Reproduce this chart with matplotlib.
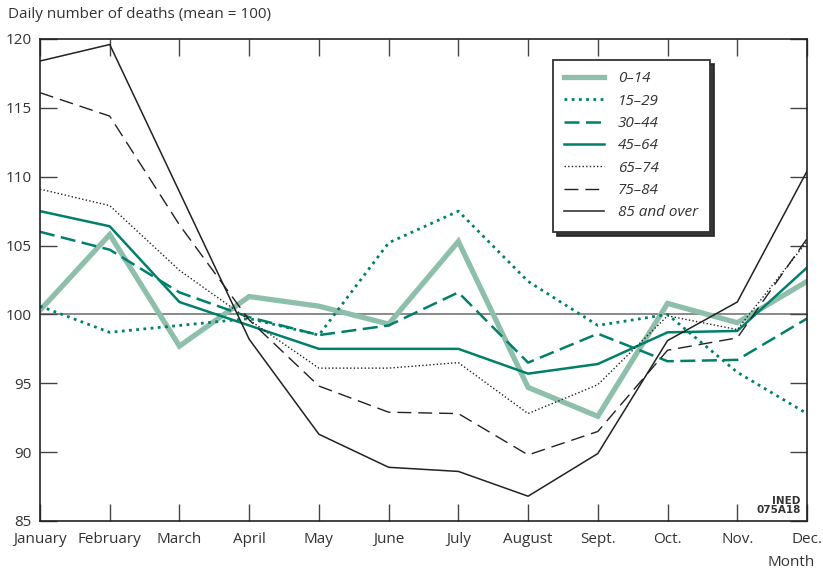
import matplotlib.pyplot as plt

months = ["January", "February", "March", "April", "May", "June", "July",
          "August", "Sept.", "Oct.", "Nov.", "Dec."]

age_0_14 = [100.3, 105.8, 97.7, 101.3, 100.6, 99.3, 105.3, 94.7, 92.6, 100.8, 99.4, 102.4]
age_15_29 = [100.6, 98.7, 99.2, 99.7, 98.5, 105.2, 107.5, 102.4, 99.2, 100.0, 95.8, 92.8]
age_30_44 = [106.0, 104.7, 101.6, 99.8, 98.5, 99.2, 101.6, 96.5, 98.6, 96.6, 96.7, 99.7]
age_45_64 = [107.5, 106.4, 100.9, 99.2, 97.5, 97.5, 97.5, 95.7, 96.4, 98.7, 98.8, 103.4]
age_65_74 = [109.1, 107.9, 103.2, 99.6, 96.1, 96.1, 96.5, 92.8, 94.9, 99.9, 98.9, 105.3]
age_75_84 = [116.1, 114.4, 106.5, 99.6, 94.8, 92.9, 92.8, 89.8, 91.5, 97.4, 98.3, 105.5]
age_85_over = [118.4, 119.6, 108.9, 98.2, 91.3, 88.9, 88.6, 86.8, 89.9, 98.1, 100.9, 110.4]

DARK_GREEN = "#00806b"
LIGHT_GREEN = "#8dbfab"
TEXT = "#333333"

plt.rcParams["font.family"] = ["Open Sans", "DejaVu Sans"]

fig = plt.figure(figsize=(8.23, 5.69), dpi=100)
ax = fig.add_axes([40 / 823, 1 - 521 / 569, 767 / 823, 482 / 569])

x = range(len(months))
ax.axhline(100, color="#777777", lw=1.2, zorder=1)

ax.plot(x, age_0_14, color=LIGHT_GREEN, lw=3.8, label="0–14", solid_joinstyle="miter")
ax.plot(x, age_15_29, color=DARK_GREEN, lw=2.0, ls=(0, (1, 1.6)), label="15–29")
ax.plot(x, age_30_44, color=DARK_GREEN, lw=1.8, ls=(0, (6, 2.6)), label="30–44")
ax.plot(x, age_45_64, color=DARK_GREEN, lw=1.8, label="45–64")
ax.plot(x, age_65_74, color="#222222", lw=1.0, ls=(0, (1, 1.6)), label="65–74")
ax.plot(x, age_75_84, color="#222222", lw=1.0, ls=(0, (10, 5)), label="75–84")
ax.plot(x, age_85_over, color="#222222", lw=1.1, label="85 and over")

ax.set_xlim(0, 11)
ax.set_ylim(85, 120)
ax.set_xticks(list(x))
ax.set_xticklabels(months)
ax.set_yticks(range(85, 121, 5))

for s in ax.spines.values():
    s.set_color("#222222")
    s.set_linewidth(1.2)

ax.tick_params(direction="in", length=12, width=1.0, color="#444444",
               top=True, right=True, labelsize=11, labelcolor=TEXT, pad=8)
ax.tick_params(axis="y", pad=6)

leg = ax.legend(loc="upper left", bbox_to_anchor=(513 / 767, 1 - 21 / 482),
                borderaxespad=0, frameon=True, fancybox=False,
                handlelength=2.6, handletextpad=0.9, labelspacing=0.48,
                borderpad=0.75, fontsize=11,
                shadow={"ox": 3, "oy": -3, "color": "#222222", "alpha": 0.9})
leg.get_frame().set_edgecolor("#333333")
leg.get_frame().set_linewidth(1.3)
for t in leg.get_texts():
    t.set_fontstyle("italic")
    t.set_color(TEXT)

fig.text(8 / 823, 1 - 14 / 569, "Daily number of deaths (mean = 100)",
         fontsize=11, color=TEXT, va="center", ha="left")
fig.text(815 / 823, 1 - 562 / 569, "Month", fontsize=11, color=TEXT,
         va="center", ha="right")
ax.text(0.992, 0.012, "INED\n075A18", transform=ax.transAxes, fontsize=7.5,
        fontweight="bold", ha="right", va="bottom", color=TEXT,
        family=["Liberation Sans Narrow", "DejaVu Sans"], linespacing=0.95)

fig.savefig("out.png", dpi=100)
